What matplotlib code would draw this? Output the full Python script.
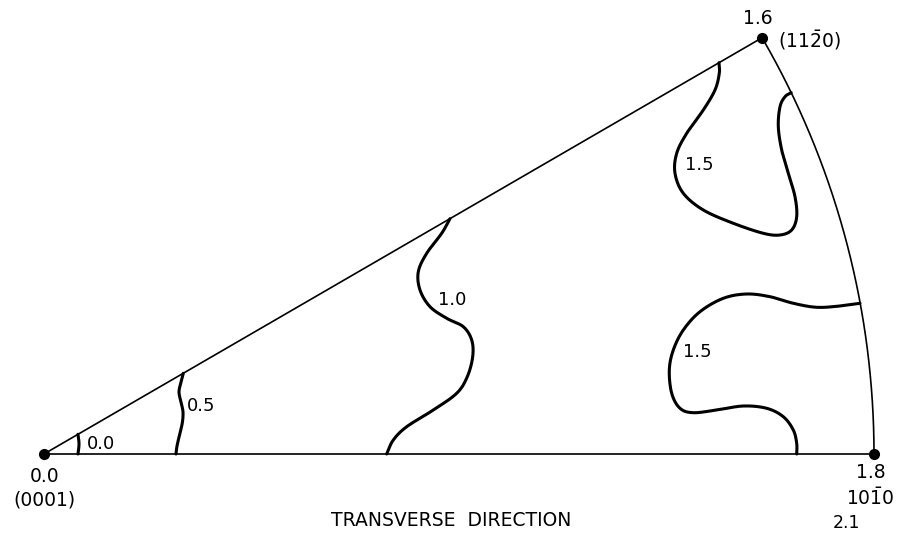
import numpy as np
import matplotlib
matplotlib.use("Agg")
import matplotlib.pyplot as plt

# inverse pole figure: standard triangle (0001)-(10-10)-(11-20), radius in plot units
R = 830.0
ANGLE = 30.1  # degrees between (10-10) and (11-20)

# pole values at the corners
pole_names = ["(0001)", r"$10\bar{1}0$", r"$(11\bar{2}0)$"]
pole_values = ["0.0", "1.8", "1.6"]
td_value = "2.1"

contour_00 = [(34, 19.7), (35, 10), (34, 0)]
contour_05 = [(139.3, 80.7), (137, 72), (135, 62), (137, 52), (139, 42),
              (138.3, 31), (135.5, 19), (133, 8), (132, 0)]
contour_10 = [(406, 235.3), (397.7, 220.7), (382.7, 200.7), (374.3, 182.3), (376, 164),
              (386, 147.3), (402.7, 135.7), (419.3, 127.3), (427.7, 114), (428.7, 97.3),
              (423.3, 77.3), (412.7, 60.7), (389.3, 44), (362.7, 27.3), (349.3, 14),
              (342.7, 0)]
contour_15a = [(675, 391.3), (675.3, 380.7), (671, 364), (659.3, 344), (642.7, 320.7),
               (632.7, 300.7), (631, 280.7), (639.3, 260.7), (659.3, 244), (689.3, 230.7),
               (719.3, 220.7), (736, 219), (747.7, 224), (752.7, 237.3), (751, 257.3),
               (744.3, 280.7), (737.7, 304), (734.3, 327.3), (736, 347.3), (741, 357.3),
               (747.2, 361.3)]
contour_15b = [(816, 150.7), (796, 148), (772.7, 146.7), (749.3, 150.7), (726, 157.3),
               (702.7, 160), (679.3, 155.7), (656, 142.3), (639.3, 124), (629.3, 104),
               (625.3, 84), (627.7, 60.7), (636, 45.7), (649.3, 41.3), (672.7, 44),
               (699.3, 48), (722.7, 45.7), (739.3, 37.3), (749.3, 24), (752.7, 10.7),
               (752.7, 0)]

contours = [contour_00, contour_05, contour_10, contour_15a, contour_15b]
contour_labels = ["0.0", "0.5", "1.0", "1.5", "1.5"]
label_pos = [(57, 10), (157, 48), (408, 154), (655, 289), (653, 102)]


def smooth(pts, n=20):
    p = np.array(pts, dtype=float)
    if len(p) < 3:
        return p
    p = np.vstack([2 * p[0] - p[1], p, 2 * p[-1] - p[-2]])
    out = []
    for i in range(1, len(p) - 2):
        p0, p1, p2, p3 = p[i - 1], p[i], p[i + 1], p[i + 2]
        t = np.linspace(0, 1, n, endpoint=False)[:, None]
        seg = 0.5 * ((2 * p1) + (-p0 + p2) * t + (2 * p0 - 5 * p1 + 4 * p2 - p3) * t ** 2
                     + (-p0 + 3 * p1 - 3 * p2 + p3) * t ** 3)
        out.append(seg)
    out.append(p[-2][None, :])
    return np.vstack(out)


plt.rcParams['font.family'] = ['DejaVu Sans']
plt.rcParams['mathtext.fontset'] = 'dejavusans'

fig = plt.figure(figsize=(8.97, 5.36), dpi=100)
ax = fig.add_axes([0, 0, 1, 1])
ax.set_xlim(-44, 853)
ax.set_ylim(-82, 454)
ax.set_aspect('equal')
ax.axis('off')

# triangle outline
a = np.radians(ANGLE)
top = (R * np.cos(a), R * np.sin(a))
ax.plot([0, R], [0, 0], color='black', lw=1.2)
ax.plot([0, top[0]], [0, top[1]], color='black', lw=1.2)
th = np.linspace(0, a, 200)
ax.plot(R * np.cos(th), R * np.sin(th), color='black', lw=1.2)

# corner poles
ax.plot([0, R, top[0]], [0, 0, top[1]], 'o', color='black', ms=7)

for c in contours:
    s = smooth(c)
    ax.plot(s[:, 0], s[:, 1], color='black', lw=2.2, solid_capstyle='round')

for txt, (x, y) in zip(contour_labels, label_pos):
    ax.text(x, y, txt, fontsize=13, ha='center', va='center')

fs = 13.5
ax.text(1, -22, pole_values[0], fontsize=fs, ha='center', va='center')
ax.text(0, -46, pole_names[0], fontsize=fs, ha='center', va='center')
ax.text(827, -19, pole_values[1], fontsize=fs, ha='center', va='center')
ax.text(826, -44, pole_names[1], fontsize=fs, ha='center', va='center')
ax.text(top[0] - 4, top[1] + 19, pole_values[2], fontsize=fs, ha='center', va='center')
ax.text(top[0] + 47, top[1] - 2, pole_names[2], fontsize=fs, ha='center', va='center')
ax.text(802, -69, td_value, fontsize=12.5, ha='center', va='center')
ax.text(407, -66, "TRANSVERSE  DIRECTION", fontsize=13.5, ha='center', va='center')

fig.savefig("out.png", dpi=100, facecolor='white')
